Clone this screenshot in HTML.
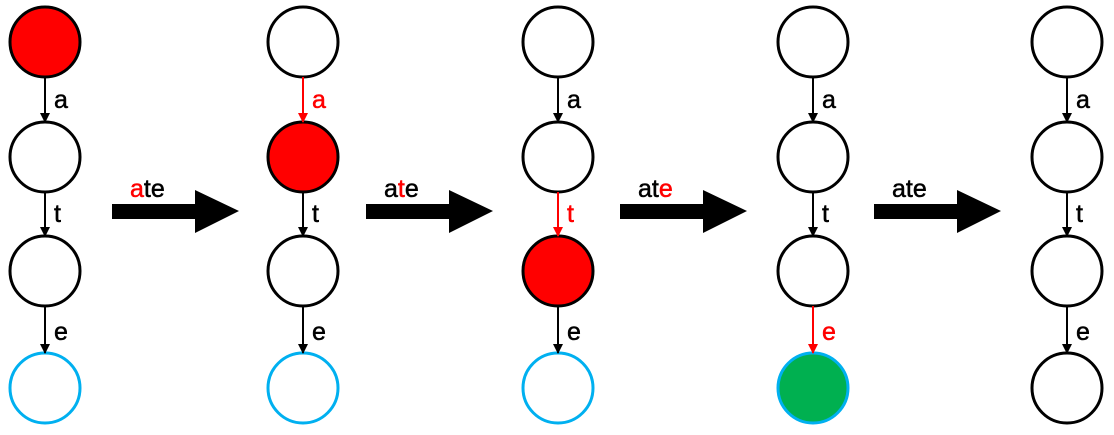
<!DOCTYPE html>
<html><head><meta charset="utf-8"><style>html,body{margin:0;padding:0;background:#fff;}</style></head>
<body>
<svg width="1114" height="430" xmlns="http://www.w3.org/2000/svg" font-family="Liberation Sans, sans-serif" font-size="25">
<defs>
<marker id="hb" markerWidth="10" markerHeight="10" refX="9" refY="5" orient="auto" markerUnits="userSpaceOnUse"><path d="M0,0 L10,5 L0,10 z" fill="#000"/></marker>
<marker id="hr" markerWidth="10" markerHeight="10" refX="9" refY="5" orient="auto" markerUnits="userSpaceOnUse"><path d="M0,0 L10,5 L0,10 z" fill="#f00"/></marker>
</defs>
<g stroke-width="3">
<circle cx="45" cy="42" r="35" fill="#f00" stroke="#000"/>
<circle cx="45" cy="157" r="35" fill="#fff" stroke="#000"/>
<circle cx="45" cy="271" r="35" fill="#fff" stroke="#000"/>
<circle cx="45" cy="388" r="35" fill="#fff" stroke="#00b0f0"/>

<circle cx="303" cy="42" r="35" fill="#fff" stroke="#000"/>
<circle cx="303" cy="157" r="35" fill="#f00" stroke="#000"/>
<circle cx="303" cy="271" r="35" fill="#fff" stroke="#000"/>
<circle cx="303" cy="388" r="35" fill="#fff" stroke="#00b0f0"/>

<circle cx="558" cy="42" r="35" fill="#fff" stroke="#000"/>
<circle cx="558" cy="157" r="35" fill="#fff" stroke="#000"/>
<circle cx="558" cy="271" r="35" fill="#f00" stroke="#000"/>
<circle cx="558" cy="388" r="35" fill="#fff" stroke="#00b0f0"/>

<circle cx="813" cy="42" r="35" fill="#fff" stroke="#000"/>
<circle cx="813" cy="157" r="35" fill="#fff" stroke="#000"/>
<circle cx="813" cy="271" r="35" fill="#fff" stroke="#000"/>
<circle cx="813" cy="388" r="35" fill="#00b050" stroke="#00b0f0"/>

<circle cx="1067" cy="42" r="35" fill="#fff" stroke="#000"/>
<circle cx="1067" cy="157" r="35" fill="#fff" stroke="#000"/>
<circle cx="1067" cy="271" r="35" fill="#fff" stroke="#000"/>
<circle cx="1067" cy="388" r="35" fill="#fff" stroke="#000"/>
</g>
<g stroke-width="2">
<line x1="45" y1="77" x2="45" y2="122" stroke="#000" marker-end="url(#hb)"/>
<line x1="45" y1="192" x2="45" y2="236" stroke="#000" marker-end="url(#hb)"/>
<line x1="45" y1="306" x2="45" y2="353" stroke="#000" marker-end="url(#hb)"/>

<line x1="303" y1="77" x2="303" y2="122" stroke="#f00" marker-end="url(#hr)"/>
<line x1="303" y1="192" x2="303" y2="236" stroke="#000" marker-end="url(#hb)"/>
<line x1="303" y1="306" x2="303" y2="353" stroke="#000" marker-end="url(#hb)"/>

<line x1="558" y1="77" x2="558" y2="122" stroke="#000" marker-end="url(#hb)"/>
<line x1="558" y1="192" x2="558" y2="236" stroke="#f00" marker-end="url(#hr)"/>
<line x1="558" y1="306" x2="558" y2="353" stroke="#000" marker-end="url(#hb)"/>

<line x1="813" y1="77" x2="813" y2="122" stroke="#000" marker-end="url(#hb)"/>
<line x1="813" y1="192" x2="813" y2="236" stroke="#000" marker-end="url(#hb)"/>
<line x1="813" y1="306" x2="813" y2="353" stroke="#f00" marker-end="url(#hr)"/>

<line x1="1067" y1="77" x2="1067" y2="122" stroke="#000" marker-end="url(#hb)"/>
<line x1="1067" y1="192" x2="1067" y2="236" stroke="#000" marker-end="url(#hb)"/>
<line x1="1067" y1="306" x2="1067" y2="353" stroke="#000" marker-end="url(#hb)"/>
</g>
<g stroke="currentColor" stroke-width="0.5">
<text x="54" y="108">a</text><text x="54" y="222">t</text><text x="54" y="340">e</text>
<text x="312" y="108" fill="#f00" stroke="#f00">a</text><text x="312" y="222">t</text><text x="312" y="340">e</text>
<text x="567" y="108">a</text><text x="567" y="222" fill="#f00" stroke="#f00">t</text><text x="567" y="340">e</text>
<text x="822" y="108">a</text><text x="822" y="222">t</text><text x="822" y="340" fill="#f00" stroke="#f00">e</text>
<text x="1076" y="108">a</text><text x="1076" y="222">t</text><text x="1076" y="340">e</text>
</g>
<g fill="#000">
<path d="M112,204 H195 V190 L239,211 L195,233 V219 H112 z"/>
<path d="M366,204 H449 V190 L493,211 L449,233 V219 H366 z"/>
<path d="M620,204 H703 V190 L747,211 L703,233 V219 H620 z"/>
<path d="M874,204 H957 V190 L1001,211 L957,233 V219 H874 z"/>
</g>
<g stroke="#000" stroke-width="0.5">
<text x="130" y="197"><tspan fill="#f00" stroke="#f00">a</tspan>te</text>
<text x="384" y="197">a<tspan fill="#f00" stroke="#f00">t</tspan>e</text>
<text x="638" y="197">at<tspan fill="#f00" stroke="#f00">e</tspan></text>
<text x="892" y="197">ate</text>
</g>
</svg>
</body></html>
